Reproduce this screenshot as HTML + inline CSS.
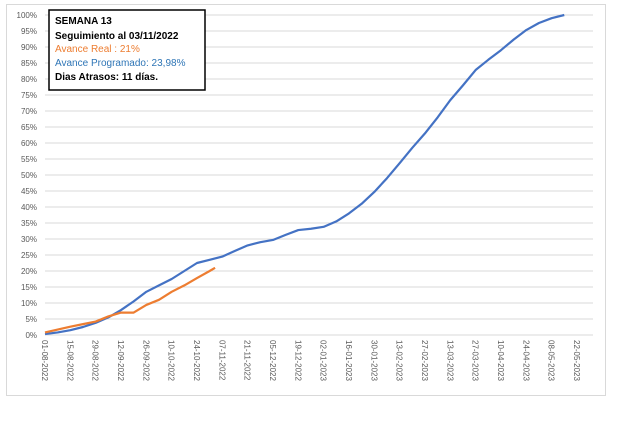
<!DOCTYPE html>
<html><head><meta charset="utf-8"><style>
body{margin:0;background:#fff;width:620px;height:420px;overflow:hidden;font-family:"Liberation Sans",sans-serif}
</style></head><body>
<svg id="c" width="620" height="420">
<rect x="6.5" y="4.5" width="599" height="391" fill="#fff" stroke="#d9d9d9"/>
<g id="grid"></g><g id="yt"></g><g id="xt"></g><g id="lines"></g>
<g>
<rect x="49" y="10" width="156" height="80" fill="#fff" stroke="#000" stroke-width="1.5"/>
<text x="55" y="24" font-size="10" font-weight="bold" fill="#000">SEMANA 13</text>
<text x="55" y="39" font-size="10" font-weight="bold" fill="#000">Seguimiento al  03/11/2022</text>
<text x="55" y="52" font-size="10" fill="#ed7d31">Avance Real :  21%</text>
<text x="55" y="66" font-size="10" fill="#2e75b6">Avance Programado: 23,98%</text>
<text x="55" y="80" font-size="10" font-weight="bold" fill="#000">Dias Atrasos: 11 días.</text>
</g>
</svg>
<script>
const yTicks=[0,5,10,15,20,25,30,35,40,45,50,55,60,65,70,75,80,85,90,95,100];
const xLabels=["01-08-2022","15-08-2022","29-08-2022","12-09-2022","26-09-2022","10-10-2022","24-10-2022","07-11-2022","21-11-2022","05-12-2022","19-12-2022","02-01-2023","16-01-2023","30-01-2023","13-02-2023","27-02-2023","13-03-2023","27-03-2023","10-04-2023","24-04-2023","08-05-2023","22-05-2023"];
const plannedDays=[0,7,14,21,28,35,42,49,56,63,70,77,84,91,98,105,112,119,126,133,140,147,154,161,168,175,182,189,196,203,210,217,224,231,238,245,252,259,266,273,280,287];
const plannedValues=[0.3,0.8,1.5,2.5,3.8,5.5,7.8,10.5,13.5,15.5,17.5,20,22.5,23.5,24.5,26.3,28,29,29.7,31.3,32.8,33.2,33.8,35.5,38,41,44.7,49,53.7,58.5,63,68,73.4,78,82.8,86,89,92.3,95.3,97.5,99,100];
const realDays=[0,7,14,21,28,35,42,49,56,63,70,77,84,91,94];
const realValues=[0.8,1.7,2.6,3.4,4.2,5.8,7,7,9.4,11,13.5,15.5,17.8,20,21];
const NS="http://www.w3.org/2000/svg";
const X0=45,PX=25.33/14,Y0=335,PY=3.2,XR=593;
const x=d=>X0+d*PX, y=v=>Y0-v*PY;
const grid=document.getElementById('grid'),yt=document.getElementById('yt'),xt=document.getElementById('xt'),lines=document.getElementById('lines');
yTicks.forEach(v=>{
 const l=document.createElementNS(NS,'line');
 l.setAttribute('x1',X0);l.setAttribute('x2',XR);l.setAttribute('y1',y(v));l.setAttribute('y2',y(v));
 l.setAttribute('stroke','#d9d9d9');l.setAttribute('stroke-width','1');
 
 
 grid.appendChild(l);
 const t=document.createElementNS(NS,'text');
 t.setAttribute('x',37);t.setAttribute('y',y(v)+3);t.setAttribute('text-anchor','end');
 t.setAttribute('font-size','8');t.setAttribute('fill','#595959');t.textContent=v+'%';
 
 
 yt.appendChild(t);
});
xLabels.forEach((s,i)=>{
 const t=document.createElementNS(NS,'text');
 const xx=x(i*14)-3, yy=340;
 t.setAttribute('x',xx);t.setAttribute('y',yy);
 t.setAttribute('transform','rotate(90 '+xx+' '+yy+')');
 t.setAttribute('font-size','8');t.setAttribute('fill','#595959');t.textContent=s;
 
 
 xt.appendChild(t);
});
function line(days,vals,color,name){
 const p=document.createElementNS(NS,'polyline');
 p.setAttribute('points',days.map((d,i)=>x(d)+','+y(vals[i])).join(' '));
 p.setAttribute('fill','none');p.setAttribute('stroke',color);p.setAttribute('stroke-width','2.2');
 p.setAttribute('stroke-linejoin','round');
 
 
 lines.appendChild(p);
}
line(plannedDays,plannedValues,'#4472c4','planned-progress-line');
line(realDays,realValues,'#ed7d31','real-progress-line');
</script>
</body></html>
